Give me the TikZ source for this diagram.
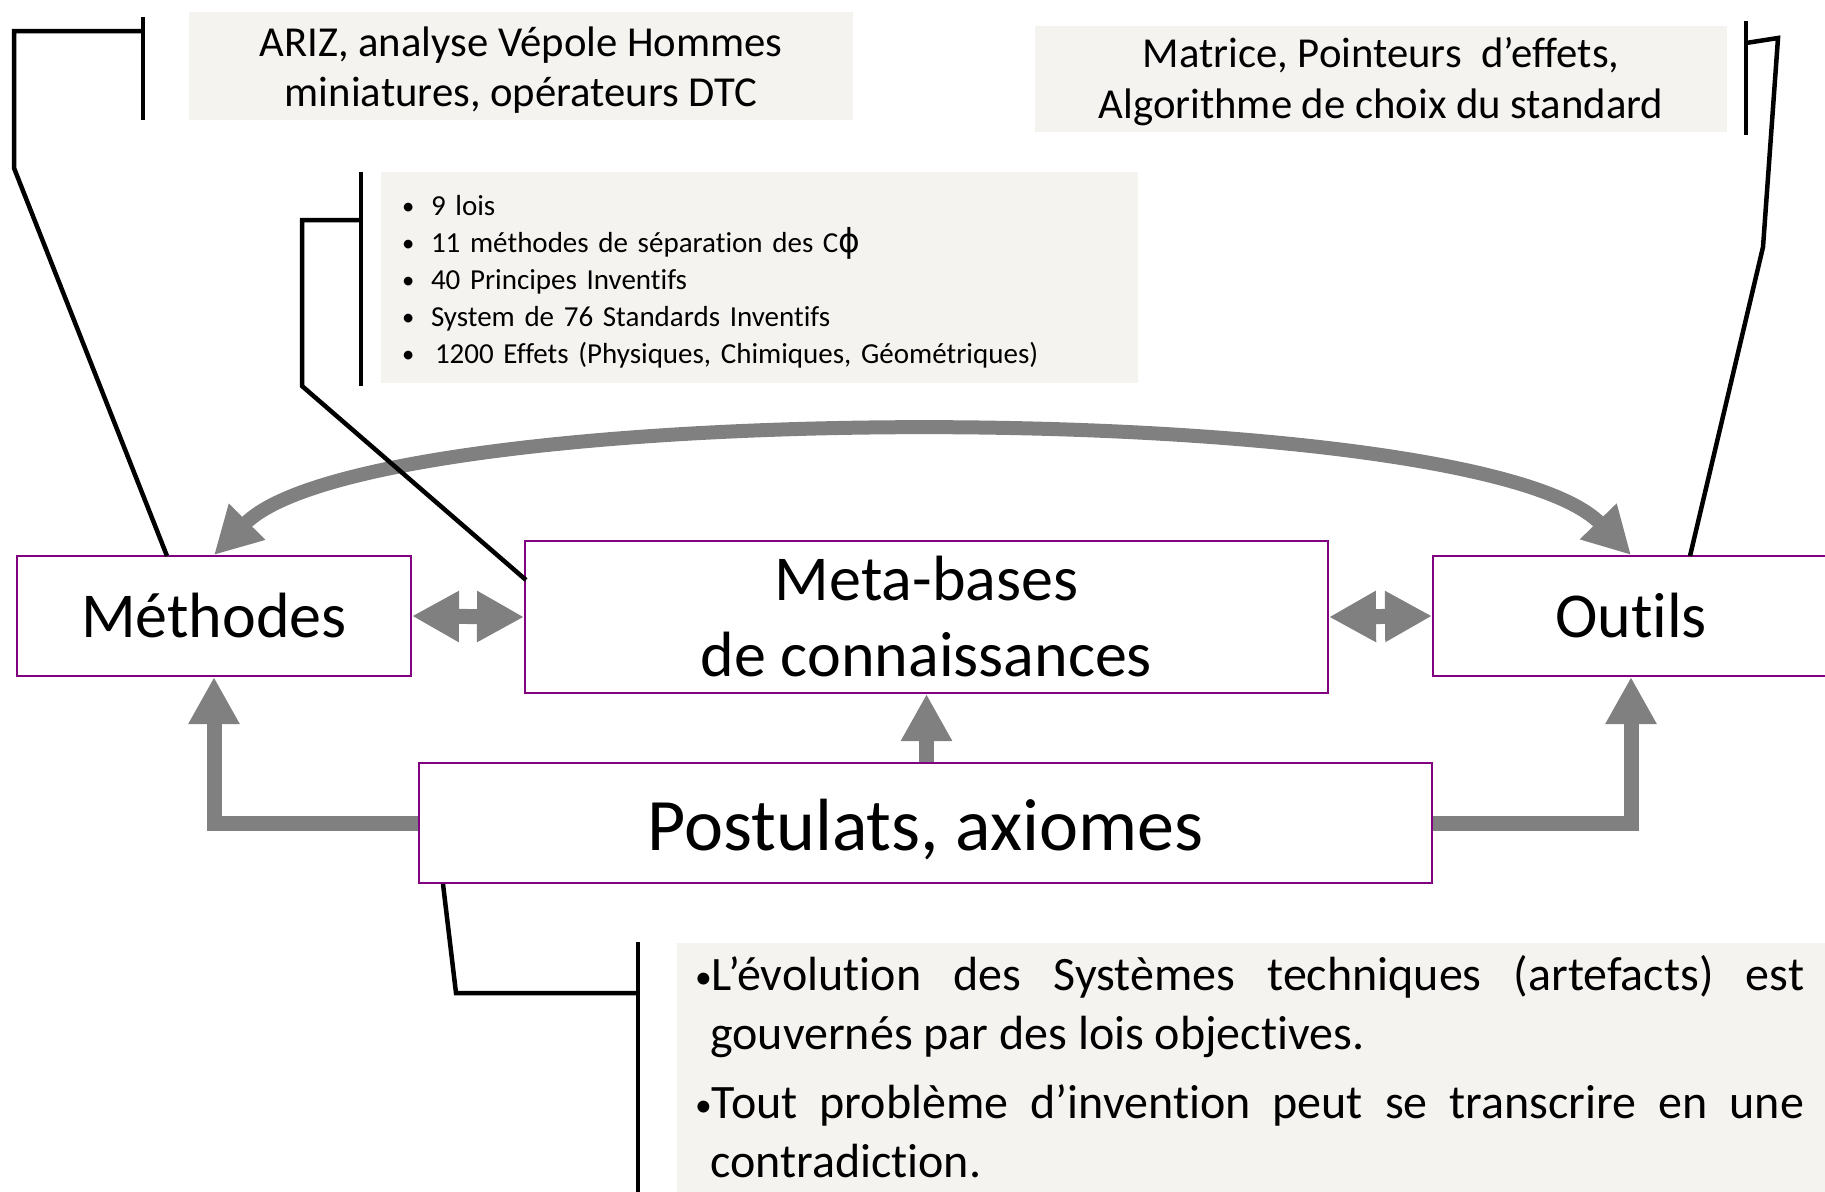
\documentclass[tikz,border=0pt]{standalone}
\usepackage{fontspec}
\setmainfont{Carlito}[Ligatures=NoCommon]
\newfontfamily\dvs{DejaVu Sans}
\usetikzlibrary{arrows.meta}
\definecolor{arrgray}{HTML}{808080}
\definecolor{boxpurple}{HTML}{800080}
\definecolor{notefill}{HTML}{F4F3EF}
\newcommand{\lbul}{\makebox[29pt][l]{\raisebox{1pt}{\scalebox{0.85}{•}}}}
\newcommand{\pbul}{\raisebox{2pt}{\scalebox{0.7}{•}}}
\tikzset{
  pbox/.style={draw=boxpurple, line width=2pt, fill=white, inner sep=0pt, align=center},
  note/.style={fill=notefill, inner sep=0pt},
  notetext/.style={inner sep=0pt},
  brk/.style={line width=4.5pt, black, line join=miter},
  gtip/.tip={Triangle[length=47pt,width=48pt]},
  garrow/.style={draw=arrgray, line width=15pt, line join=miter, -gtip},
  gdouble/.style={draw=arrgray, line width=15pt, gtip-gtip},
  gcurve/.style={draw=arrgray, line width=14pt, gtip-gtip},
}
\begin{document}
\begin{tikzpicture}[x=1pt,y=-1pt]
\useasboundingbox (0,0) rectangle (1825,1191);
\clip (0,0) rectangle (1825,1191);
% grey note boxes
\node[note, minimum width=664pt, minimum height=108pt] (ariz) at (521,66) {};
\node[notetext, align=center, font=\fontsize{42.7}{50}\selectfont] (ariztext)
  at ([yshift=-4pt]ariz.center) {ARIZ, analyse Vépole Hommes\\miniatures, opérateurs DTC};
\node[note, minimum width=692pt, minimum height=106pt] (matrice) at (1381,79) {};
\node[notetext, align=center, font=\fontsize{42.7}{51}\selectfont] (matricetext)
  at ([yshift=-3pt]matrice.center) {Matrice, Pointeurs\ \ d’effets,\\Algorithme de choix du standard};
\node[note, minimum width=757pt, minimum height=211pt] (lois) at (759.5,277.5) {};
\node[notetext, text width=715pt, align=left, font=\fontsize{29}{37}\selectfont] (loistext)
  at ([yshift=-4pt]lois.center)
  {\lbul 9 lois\\
   \lbul 11 méthodes de séparation des C{\dvs\fontsize{33}{33}\selectfont ϕ}\\
   \lbul 40 Principes Inventifs\\
   \lbul System de 76 Standards Inventifs\\
   \lbul\hspace*{4pt}1200 Effets (Physiques, Chimiques, Géométriques)};
\node[note, anchor=north west, minimum width=1160pt, minimum height=260pt] (postnote) at (677,943) {};
\node[notetext, anchor=north west, align=left,
      font=\fontsize{48}{59}\selectfont] (posttext) at (695,955)
  {\makebox[1109pt][s]{\pbul L’évolution des Systèmes techniques (artefacts) est}\\
   \hspace*{15pt}gouvernés par des lois objectives.\\[10pt]
   \makebox[1109pt][s]{\pbul Tout problème d’invention peut se transcrire en une}\\
   \hspace*{15pt}contradiction.};
% main boxes
\node[pbox, minimum width=394pt, minimum height=120pt, font=\fontsize{64}{74}\selectfont] (meth) at (214,616) {Méthodes};
\node[pbox, minimum width=803pt, minimum height=152pt, font=\fontsize{64}{76}\selectfont] (meta) at (926.5,617) {Meta-bases\\de connaissances};
\node[pbox, minimum width=396pt, minimum height=120pt, font=\fontsize{64}{74}\selectfont] (outils) at (1631,616) {Outils};
\node[pbox, minimum width=1013pt, minimum height=120pt, text height=54pt, text depth=0pt,
      font=\fontsize{74}{88}\selectfont] (post) at (925.5,823) {Postulats, axiomes};
% grey arrows
\draw[gcurve] (meth.north) .. controls (373,395) and (1475,395) .. (outils.north);
\draw[gdouble] (meth.east) -- (meta.west);
\draw[gdouble] (meta.east) -- (outils.west);
\draw[garrow] (post.west) -| (meth.south);
\draw[garrow] (post.east) -| (outils.south);
\draw[garrow] (meta.south |- post.north) -- (meta.south);
% brackets
\coordinate (arizT) at (143,17);
\coordinate (arizB) at (143,120);
\coordinate (arizH) at (143,31);
\coordinate (methTop) at (167,556);
\draw[brk] (arizT) -- (arizB);
\draw[brk] (arizH) -- (14,31) -- (14,168) -- (methTop);
\coordinate (loisT) at (361,172);
\coordinate (loisB) at (361,386);
\coordinate (loisH) at (361,220);
\coordinate (metaPt) at (526,580);
\draw[brk] (loisT) -- (loisB);
\draw[brk] (loisH) -- (302,220) -- (302,386) -- (metaPt);
\coordinate (matT) at (1746,21);
\coordinate (matB) at (1746,135);
\coordinate (matH) at (1746,43);
\coordinate (outTop) at (1690,556);
\draw[brk] (matT) -- (matB);
\draw[brk] (matH) -- (1778,38) -- (1763,247) -- (outTop);
\coordinate (postBot) at (443,884);
\coordinate (pnT) at (638,942);
\coordinate (pnB) at (638,1195);
\coordinate (pnH) at (638,993);
\draw[brk] (pnT) -- (pnB);
\draw[brk] (postBot) -- (456,993) -- (pnH);
\end{tikzpicture}
\end{document}
